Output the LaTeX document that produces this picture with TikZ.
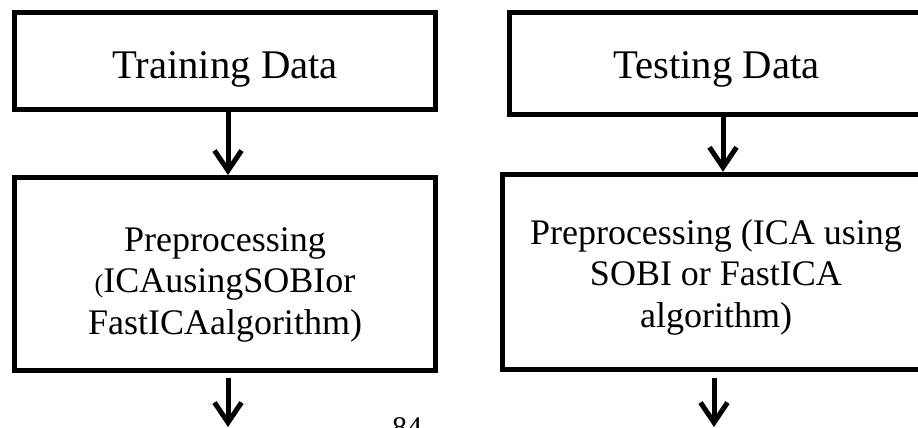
\documentclass[tikz,border=0pt]{standalone}
\usepackage{fontspec}
\setmainfont{Liberation Serif}
\usetikzlibrary{arrows.meta}

\begin{document}
\begin{tikzpicture}[x=1pt, y=-1pt,
  box/.style={draw, line width=5pt, align=center, inner sep=0pt},
  flow/.style={line width=5pt, -{Straight Barb[length=20pt,width=27pt]}}]
\useasboundingbox (0,0) rectangle (918,428);
% top row
\node (train) [box, minimum width=421, minimum height=97, text height=34pt, text depth=0pt, font=\fontsize{40.7}{47}\selectfont] at (225,61) {Training Data};
\node (test) [box, minimum width=414, minimum height=102, text height=29pt, text depth=0pt, font=\fontsize{40.7}{47}\selectfont] at (716.5,63.5) {Testing Data};
% preprocessing boxes
\node (prepL) [box, minimum width=421, minimum height=193, font=\fontsize{36}{41.5}\selectfont] at (225,274) {\rule{0pt}{45pt}Preprocessing\\{\fontsize{26}{26}\selectfont(}ICAusingSOBIor\\FastICAalgorithm)};
\node (prepR) [box, minimum width=428, minimum height=195.5, font=\fontsize{36}{41.5}\selectfont] at (716,272) {\rule{0pt}{35pt}Preprocessing (ICA using\\SOBI or FastICA\\algorithm)};
\node (page) [anchor=base, font=\fontsize{30}{30}\selectfont] at (407,437) {84};
\coordinate (outL) at (228,427);
\coordinate (outR) at (714,427);
\draw[flow] ([xshift=3pt]train.south) -- ([xshift=3pt]train.south |- prepL.north);
\draw[flow] ([xshift=6.5pt]test.south) -- ([xshift=6.5pt]test.south |- prepR.north);
\draw[flow] ([xshift=3pt, yshift=-5pt]prepL.south) -- (outL);
\draw[flow] ([xshift=-2pt, yshift=-6pt]prepR.south) -- (outR);
\end{tikzpicture}
\end{document}
